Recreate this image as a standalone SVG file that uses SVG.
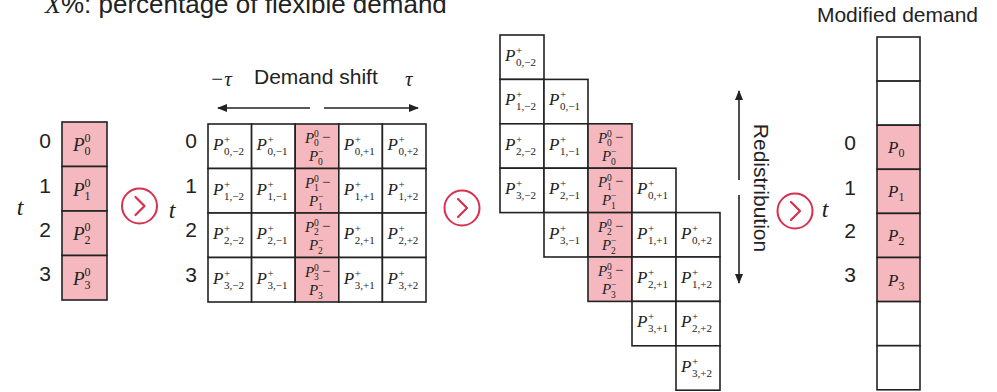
<svg xmlns="http://www.w3.org/2000/svg" width="997" height="392" viewBox="0 0 997 392">
<defs>
<marker id="ah" viewBox="0 0 10 8" refX="9" refY="4" markerWidth="10" markerHeight="8" markerUnits="userSpaceOnUse" orient="auto">
<path d="M0,0 L10,4 L0,8 z" fill="#222"/>
</marker>
<g id="chev">
<circle cx="0" cy="0" r="17.5" fill="#fff" stroke="#d8304f" stroke-width="2"/>
<path d="M-4,-9 L5,0 L-4,9" fill="none" stroke="#d8304f" stroke-width="2.2" stroke-linecap="round" stroke-linejoin="round"/>
</g>
</defs>
<style>
.c{fill:#fff;stroke:#222;stroke-width:1.6}
.k{fill:#f4b8be;stroke:#222;stroke-width:1.6}
.P{font-family:"Liberation Serif",serif;font-style:italic;font-size:17px;fill:#222}
.Pp{font-family:"Liberation Serif",serif;font-style:italic;font-size:15px;fill:#222}
.s{font-family:"Liberation Serif",serif;font-style:normal;font-size:11px;fill:#222}
.sp{font-family:"Liberation Serif",serif;font-style:normal;font-size:9.5px;fill:#222}
.mn{font-family:"Liberation Serif",serif;font-style:normal;font-size:15px;fill:#222}
.L{font-family:"Liberation Sans",Arial,sans-serif;font-size:21px;fill:#222}
.n{font-family:"Liberation Sans",Arial,sans-serif;font-size:21px;fill:#222;text-anchor:middle}
.t{font-family:"Liberation Serif",serif;font-style:italic;font-size:24px;fill:#222;text-anchor:middle}
.ln{stroke:#222;stroke-width:1.6;fill:none}
</style>
<rect width="997" height="392" fill="#fff"/>

<g id="title">
<text x="45" y="13" style="font-family:'Liberation Sans',Arial,sans-serif;font-size:26px;fill:#222"><tspan style="font-family:'Liberation Serif',serif;font-style:italic">X</tspan>%: percentage of flexible demand</text>
</g>

<g id="original-demand">
<rect class="k" x="62" y="122" width="45" height="44.5"/>
<rect class="k" x="62" y="166.5" width="45" height="44.5"/>
<rect class="k" x="62" y="211" width="45" height="44.5"/>
<rect class="k" x="62" y="255.5" width="45" height="44.5"/>
<text class="P" style="font-size:19px" x="73" y="151">P</text><text class="s" style="font-size:12px" x="84.5" y="142">0</text><text class="s" style="font-size:12px" x="84.5" y="155">0</text>
<text class="P" style="font-size:19px" x="73" y="195.5">P</text><text class="s" style="font-size:12px" x="84.5" y="186.5">0</text><text class="s" style="font-size:12px" x="84.5" y="199.5">1</text>
<text class="P" style="font-size:19px" x="73" y="240">P</text><text class="s" style="font-size:12px" x="84.5" y="231">0</text><text class="s" style="font-size:12px" x="84.5" y="244">2</text>
<text class="P" style="font-size:19px" x="73" y="284.5">P</text><text class="s" style="font-size:12px" x="84.5" y="275.5">0</text><text class="s" style="font-size:12px" x="84.5" y="288.5">3</text>
<text class="n" x="45" y="148">0</text>
<text class="n" x="45" y="193">1</text>
<text class="n" x="45" y="237">2</text>
<text class="n" x="45" y="281">3</text>
<text class="t" x="20" y="215">t</text>
</g>

<g id="demand-shift-table">
<text class="L" x="254" y="84">Demand shift</text>
<text style="font-family:'Liberation Serif',serif;font-style:italic;font-size:21px;fill:#222" x="210" y="86">−τ</text>
<text style="font-family:'Liberation Serif',serif;font-style:italic;font-size:21px;fill:#222" x="405" y="86">τ</text>
<g>
<rect class="c" x="208" y="124" width="43.6" height="44.5"/><rect class="c" x="251.6" y="124" width="43.6" height="44.5"/><rect class="k" x="295.2" y="124" width="43.6" height="44.5"/><rect class="c" x="338.8" y="124" width="43.6" height="44.5"/><rect class="c" x="382.4" y="124" width="43.6" height="44.5"/>
<rect class="c" x="208" y="168.5" width="43.6" height="44.5"/><rect class="c" x="251.6" y="168.5" width="43.6" height="44.5"/><rect class="k" x="295.2" y="168.5" width="43.6" height="44.5"/><rect class="c" x="338.8" y="168.5" width="43.6" height="44.5"/><rect class="c" x="382.4" y="168.5" width="43.6" height="44.5"/>
<rect class="c" x="208" y="213" width="43.6" height="44.5"/><rect class="c" x="251.6" y="213" width="43.6" height="44.5"/><rect class="k" x="295.2" y="213" width="43.6" height="44.5"/><rect class="c" x="338.8" y="213" width="43.6" height="44.5"/><rect class="c" x="382.4" y="213" width="43.6" height="44.5"/>
<rect class="c" x="208" y="257.5" width="43.6" height="44.5"/><rect class="c" x="251.6" y="257.5" width="43.6" height="44.5"/><rect class="k" x="295.2" y="257.5" width="43.6" height="44.5"/><rect class="c" x="338.8" y="257.5" width="43.6" height="44.5"/><rect class="c" x="382.4" y="257.5" width="43.6" height="44.5"/>
</g>
<text class="P" x="213" y="150">P</text><text class="s" x="224" y="143">+</text><text class="s" x="224" y="155">0,−2</text>
<text class="P" x="256.6" y="150">P</text><text class="s" x="267.6" y="143">+</text><text class="s" x="267.6" y="155">0,−1</text>
<text class="P" x="343.8" y="150">P</text><text class="s" x="354.8" y="143">+</text><text class="s" x="354.8" y="155">0,+1</text>
<text class="P" x="387.4" y="150">P</text><text class="s" x="398.4" y="143">+</text><text class="s" x="398.4" y="155">0,+2</text>
<text class="P" x="213" y="194.5">P</text><text class="s" x="224" y="187.5">+</text><text class="s" x="224" y="199.5">1,−2</text>
<text class="P" x="256.6" y="194.5">P</text><text class="s" x="267.6" y="187.5">+</text><text class="s" x="267.6" y="199.5">1,−1</text>
<text class="P" x="343.8" y="194.5">P</text><text class="s" x="354.8" y="187.5">+</text><text class="s" x="354.8" y="199.5">1,+1</text>
<text class="P" x="387.4" y="194.5">P</text><text class="s" x="398.4" y="187.5">+</text><text class="s" x="398.4" y="199.5">1,+2</text>
<text class="P" x="213" y="239">P</text><text class="s" x="224" y="232">+</text><text class="s" x="224" y="244">2,−2</text>
<text class="P" x="256.6" y="239">P</text><text class="s" x="267.6" y="232">+</text><text class="s" x="267.6" y="244">2,−1</text>
<text class="P" x="343.8" y="239">P</text><text class="s" x="354.8" y="232">+</text><text class="s" x="354.8" y="244">2,+1</text>
<text class="P" x="387.4" y="239">P</text><text class="s" x="398.4" y="232">+</text><text class="s" x="398.4" y="244">2,+2</text>
<text class="P" x="213" y="283.5">P</text><text class="s" x="224" y="276.5">+</text><text class="s" x="224" y="288.5">3,−2</text>
<text class="P" x="256.6" y="283.5">P</text><text class="s" x="267.6" y="276.5">+</text><text class="s" x="267.6" y="288.5">3,−1</text>
<text class="P" x="343.8" y="283.5">P</text><text class="s" x="354.8" y="276.5">+</text><text class="s" x="354.8" y="288.5">3,+1</text>
<text class="P" x="387.4" y="283.5">P</text><text class="s" x="398.4" y="276.5">+</text><text class="s" x="398.4" y="288.5">3,+2</text>
<text class="Pp" x="305" y="143">P</text><text class="sp" x="314" y="137">0</text><text class="sp" x="314" y="146">0</text><text class="mn" x="322" y="142">−</text><text class="Pp" x="309" y="161">P</text><text class="sp" x="318" y="155">−</text><text class="sp" x="318" y="165">0</text>
<text class="Pp" x="305" y="187.5">P</text><text class="sp" x="314" y="181.5">0</text><text class="sp" x="314" y="190.5">1</text><text class="mn" x="322" y="186.5">−</text><text class="Pp" x="309" y="205.5">P</text><text class="sp" x="318" y="199.5">−</text><text class="sp" x="318" y="209.5">1</text>
<text class="Pp" x="305" y="232">P</text><text class="sp" x="314" y="226">0</text><text class="sp" x="314" y="235">2</text><text class="mn" x="322" y="231">−</text><text class="Pp" x="309" y="250">P</text><text class="sp" x="318" y="244">−</text><text class="sp" x="318" y="254">2</text>
<text class="Pp" x="305" y="276.5">P</text><text class="sp" x="314" y="270.5">0</text><text class="sp" x="314" y="279.5">3</text><text class="mn" x="322" y="275.5">−</text><text class="Pp" x="309" y="294.5">P</text><text class="sp" x="318" y="288.5">−</text><text class="sp" x="318" y="298.5">3</text>
<text class="n" x="191" y="148">0</text>
<text class="n" x="191" y="192.5">1</text>
<text class="n" x="191" y="237">2</text>
<text class="n" x="191" y="281.5">3</text>
<text class="t" x="172" y="218">t</text>
</g>

<g id="redistribution-staircase">
<rect class="c" x="500" y="35" width="44" height="44.4"/>
<rect class="c" x="500" y="79.4" width="44" height="44.4"/>
<rect class="c" x="500" y="123.8" width="44" height="44.4"/>
<rect class="c" x="500" y="168.2" width="44" height="44.4"/>
<rect class="c" x="544" y="79.4" width="44" height="44.4"/>
<rect class="c" x="544" y="123.8" width="44" height="44.4"/>
<rect class="c" x="544" y="168.2" width="44" height="44.4"/>
<rect class="c" x="544" y="212.6" width="44" height="44.4"/>
<rect class="k" x="588" y="123.8" width="44" height="44.4"/>
<rect class="k" x="588" y="168.2" width="44" height="44.4"/>
<rect class="k" x="588" y="212.6" width="44" height="44.4"/>
<rect class="k" x="588" y="257" width="44" height="44.4"/>
<rect class="c" x="632" y="168.2" width="44" height="44.4"/>
<rect class="c" x="632" y="212.6" width="44" height="44.4"/>
<rect class="c" x="632" y="257" width="44" height="44.4"/>
<rect class="c" x="632" y="301.4" width="44" height="44.4"/>
<rect class="c" x="676" y="212.6" width="44" height="44.4"/>
<rect class="c" x="676" y="257" width="44" height="44.4"/>
<rect class="c" x="676" y="301.4" width="44" height="44.4"/>
<rect class="c" x="676" y="345.8" width="44" height="44.4"/>
<text class="P" x="505" y="61">P</text><text class="s" x="516" y="54">+</text><text class="s" x="516" y="66">0,−2</text>
<text class="P" x="505" y="105.4">P</text><text class="s" x="516" y="98.4">+</text><text class="s" x="516" y="110.4">1,−2</text>
<text class="P" x="505" y="149.8">P</text><text class="s" x="516" y="142.8">+</text><text class="s" x="516" y="154.8">2,−2</text>
<text class="P" x="505" y="194.2">P</text><text class="s" x="516" y="187.2">+</text><text class="s" x="516" y="199.2">3,−2</text>
<text class="P" x="549" y="105.4">P</text><text class="s" x="560" y="98.4">+</text><text class="s" x="560" y="110.4">0,−1</text>
<text class="P" x="549" y="149.8">P</text><text class="s" x="560" y="142.8">+</text><text class="s" x="560" y="154.8">1,−1</text>
<text class="P" x="549" y="194.2">P</text><text class="s" x="560" y="187.2">+</text><text class="s" x="560" y="199.2">2,−1</text>
<text class="P" x="549" y="238.6">P</text><text class="s" x="560" y="231.6">+</text><text class="s" x="560" y="243.6">3,−1</text>
<text class="Pp" x="598" y="142.8">P</text><text class="sp" x="607" y="136.8">0</text><text class="sp" x="607" y="145.8">0</text><text class="mn" x="615" y="141.8">−</text><text class="Pp" x="602" y="160.8">P</text><text class="sp" x="611" y="154.8">−</text><text class="sp" x="611" y="164.8">0</text>
<text class="Pp" x="598" y="187.2">P</text><text class="sp" x="607" y="181.2">0</text><text class="sp" x="607" y="190.2">1</text><text class="mn" x="615" y="186.2">−</text><text class="Pp" x="602" y="205.2">P</text><text class="sp" x="611" y="199.2">−</text><text class="sp" x="611" y="209.2">1</text>
<text class="Pp" x="598" y="231.6">P</text><text class="sp" x="607" y="225.6">0</text><text class="sp" x="607" y="234.6">2</text><text class="mn" x="615" y="230.6">−</text><text class="Pp" x="602" y="249.6">P</text><text class="sp" x="611" y="243.6">−</text><text class="sp" x="611" y="253.6">2</text>
<text class="Pp" x="598" y="276">P</text><text class="sp" x="607" y="270">0</text><text class="sp" x="607" y="279">3</text><text class="mn" x="615" y="275">−</text><text class="Pp" x="602" y="294">P</text><text class="sp" x="611" y="288">−</text><text class="sp" x="611" y="298">3</text>
<text class="P" x="637" y="194.2">P</text><text class="s" x="648" y="187.2">+</text><text class="s" x="648" y="199.2">0,+1</text>
<text class="P" x="637" y="238.6">P</text><text class="s" x="648" y="231.6">+</text><text class="s" x="648" y="243.6">1,+1</text>
<text class="P" x="637" y="283">P</text><text class="s" x="648" y="276">+</text><text class="s" x="648" y="288">2,+1</text>
<text class="P" x="637" y="327.4">P</text><text class="s" x="648" y="320.4">+</text><text class="s" x="648" y="332.4">3,+1</text>
<text class="P" x="681" y="238.6">P</text><text class="s" x="692" y="231.6">+</text><text class="s" x="692" y="243.6">0,+2</text>
<text class="P" x="681" y="283">P</text><text class="s" x="692" y="276">+</text><text class="s" x="692" y="288">1,+2</text>
<text class="P" x="681" y="327.4">P</text><text class="s" x="692" y="320.4">+</text><text class="s" x="692" y="332.4">2,+2</text>
<text class="P" x="681" y="371.8">P</text><text class="s" x="692" y="364.8">+</text><text class="s" x="692" y="376.8">3,+2</text>
<text class="L" transform="translate(754,188) rotate(90)" text-anchor="middle">Redistribution</text>
</g>

<g id="modified-demand">
<text class="L" x="897.5" y="22" text-anchor="middle">Modified demand</text>
<rect class="c" x="877" y="37" width="43" height="44.1"/>
<rect class="c" x="877" y="81.1" width="43" height="44.1"/>
<rect class="k" x="877" y="125.2" width="43" height="44.1"/>
<rect class="k" x="877" y="169.3" width="43" height="44.1"/>
<rect class="k" x="877" y="213.4" width="43" height="44.1"/>
<rect class="k" x="877" y="257.5" width="43" height="44.1"/>
<rect class="c" x="877" y="301.6" width="43" height="44.1"/>
<rect class="c" x="877" y="345.7" width="43" height="44.1"/>
<text class="P" x="888" y="153.2">P</text><text class="s" style="font-size:12px" x="898.5" y="157.2">0</text>
<text class="P" x="888" y="197.3">P</text><text class="s" style="font-size:12px" x="898.5" y="201.3">1</text>
<text class="P" x="888" y="241.4">P</text><text class="s" style="font-size:12px" x="898.5" y="245.4">2</text>
<text class="P" x="888" y="285.5">P</text><text class="s" style="font-size:12px" x="898.5" y="289.5">3</text>
<text class="n" x="850" y="150">0</text>
<text class="n" x="850" y="195">1</text>
<text class="n" x="850" y="238">2</text>
<text class="n" x="850" y="282">3</text>
<text class="t" x="825" y="217">t</text>
</g>

<g id="connectors">
<line class="ln" x1="310" y1="108" x2="218" y2="108" marker-end="url(#ah)"/>
<line class="ln" x1="324" y1="108" x2="418" y2="108" marker-end="url(#ah)"/>
<line class="ln" x1="739" y1="180" x2="739" y2="91" marker-end="url(#ah)"/>
<line class="ln" x1="739" y1="195" x2="739" y2="283" marker-end="url(#ah)"/>
<use href="#chev" x="139.5" y="206"/>
<use href="#chev" x="462" y="208"/>
<use href="#chev" x="795" y="211"/>
</g>
</svg>
